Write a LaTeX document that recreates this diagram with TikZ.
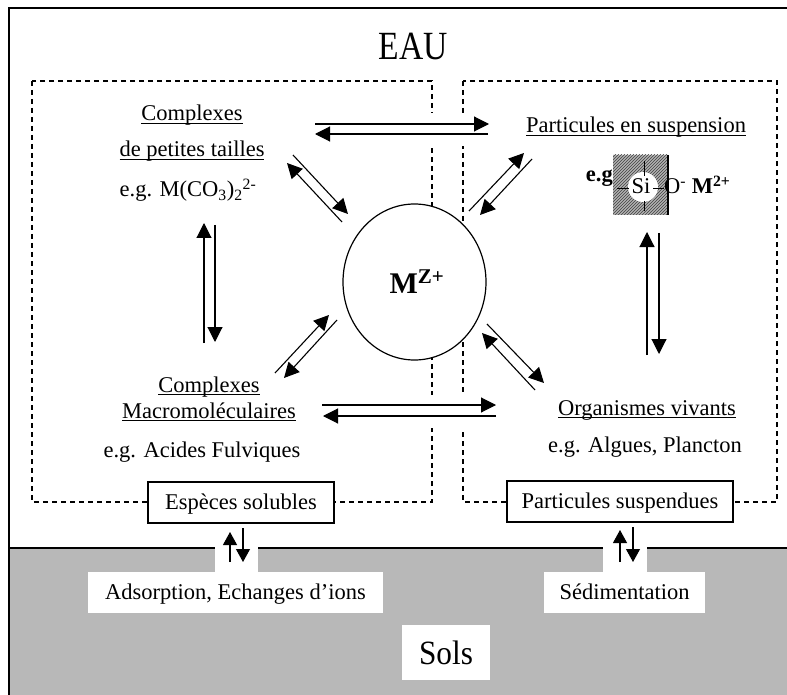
\documentclass[tikz,border=0pt]{standalone}
\usepackage{fontspec}
\setmainfont{Liberation Serif}
\usetikzlibrary{arrows.meta,patterns,shapes.geometric}
\newsavebox\ulbox
\newcommand{\ulx}[1]{\sbox\ulbox{#1}\rlap{\rule[-2.6pt]{\wd\ulbox}{0.9pt}}\usebox\ulbox}
\begin{document}
\begin{tikzpicture}[x=1pt,y=-1pt,
  txt/.style={font=\fontsize{22.5}{27}\selectfont, inner sep=0pt, anchor=base},
  arr/.style={line width=1.1pt, -{Triangle[length=15pt,width=15pt]}},
  sarr/.style={line width=1.1pt, -{Triangle[length=13pt,width=14pt]}},
  dashbox/.style={dash pattern=on 5pt off 4pt, line width=1.4pt},
  lblbox/.style={draw, line width=1.3pt, fill=white, inner sep=0pt, minimum height=41pt,
     font=\fontsize{22.5}{27}\selectfont, text height=17pt, text depth=3.5pt},
  soilbox/.style={fill=white, inner sep=0pt, minimum height=41pt,
     font=\fontsize{22.5}{27}\selectfont, text height=17pt, text depth=3.5pt}]
\useasboundingbox (0,0) rectangle (787,695);
\clip (0,0) rectangle (787,695);
% ground
\fill[black!28] (9,548) rectangle (800,710);
% frame and ground line
\draw[line width=2pt] (9,710) -- (9,8) -- (800,8);
\draw[line width=2pt] (9,548) -- (800,548);
\fill[white] (215,546) rectangle (258,573);
\fill[white] (603,546) rectangle (647,573);
% titles
\node[inner sep=0pt, anchor=base, font=\fontsize{40}{40}\selectfont] (eau) at (413,60) {\scalebox{0.84}[1]{EAU}};
\node[fill=white, inner sep=0pt, minimum width=88pt, minimum height=55pt,
      font=\fontsize{34}{34}\selectfont, text height=27pt, text depth=4pt] (sols) at (446,652.5) {\scalebox{0.92}[1]{Sols}};
% dashed boxes
\draw[dashbox] (32,81) rectangle (432,502);
\draw[dashbox] (463,81) rectangle (777,502);
% central ion
\node[ellipse, draw, fill=white, line width=1.2pt, minimum width=143pt, minimum height=156pt, inner sep=0pt] (mz) at (414.5,282) {};
\node[inner sep=0pt, anchor=base, font=\bfseries\fontsize{30}{30}\selectfont] (mzt) at (417,293) {M\textsuperscript{Z+}};
% white backgrounds behind horizontal arrows
\fill[white] (420,113) rectangle (475,146);
\fill[white] (420,395) rectangle (475,428);
% texts
\node[txt] (c1a) at (192,121) {\ulx{Complexes}};
\node[txt] (c1b) at (192,157) {\ulx{de petites tailles}};
\node[txt] (c1c) at (188,197) {e.g. M(CO\textsubscript{3})\textsubscript{2}\textsuperscript{2-}};
\node[txt] (pa) at (636,133) {\ulx{Particules en suspension}};
\node[txt] (c2a) at (209,392) {\ulx{Complexes}};
\node[txt] (c2b) at (209,418) {\ulx{Macromoléculaires}};
\node[txt] (c2c) at (202,457) {e.g. Acides Fulviques};
\node[txt] (ov) at (647,415) {\ulx{Organismes vivants}};
\node[txt] (ova) at (645,452) {e.g. Algues, Plancton};
% Si group
\fill[black!30] (613,155) rectangle (668,215);
\fill[pattern=north east lines, pattern color=black!75] (613,155) rectangle (668,215);
\draw[line width=1.5pt] (668,155) -- (668,215);
\node[circle, fill=white, minimum size=30pt, inner sep=0pt] (sic) at (643,187) {};
\draw[line width=0.8pt] (644,161) -- (644,176);
\draw[line width=0.8pt] (644,201) -- (644,211);
\draw[line width=0.8pt] (617,188) -- (629,188);
\draw[line width=0.8pt] (653,188) -- (664,188);
\node[txt] (si) at (641,194) {Si};
\node[txt, anchor=base west] (om) at (664,194) {O\textsuperscript{-} \textbf{M\textsuperscript{2+}}};
\node[txt, anchor=base east] (eg) at (613,182) {\textbf{e.g}};
% boxes
\node[lblbox, minimum width=186pt] (esp) at (241,502.5) {Espèces solubles};
\node[lblbox, minimum width=226pt] (psu) at (620,501.5) {Particules suspendues};
\node[soilbox, minimum width=295pt] (ads) at (235.5,592.5) {Adsorption, Echanges d’ions};
\node[soilbox, minimum width=161pt] (sed) at (624.5,592.5) {Sédimentation};
% arrow end coordinates
\coordinate (h1a) at (315,124); \coordinate (h1b) at (489,124);
\coordinate (h2a) at (488,134); \coordinate (h2b) at (315,134);
\coordinate (h3a) at (322,405); \coordinate (h3b) at (496,405);
\coordinate (h4a) at (496,416); \coordinate (h4b) at (323,416);
\coordinate (v1a) at (204,343); \coordinate (v1b) at (204,223);
\coordinate (v2a) at (215,225); \coordinate (v2b) at (215,342);
\coordinate (v3a) at (647,355); \coordinate (v3b) at (647,232);
\coordinate (v4a) at (659,233); \coordinate (v4b) at (659,354);
\coordinate (d1a) at (293,155); \coordinate (d1b) at (348,214);
\coordinate (d2a) at (342,222); \coordinate (d2b) at (287,163);
\coordinate (d3a) at (469,211); \coordinate (d3b) at (524,153);
\coordinate (d4a) at (532,159); \coordinate (d4b) at (480,215);
\coordinate (d5a) at (275,373); \coordinate (d5b) at (329,315);
\coordinate (d6a) at (337,320); \coordinate (d6b) at (284,378);
\coordinate (d7a) at (487,324); \coordinate (d7b) at (544,383);
\coordinate (d8a) at (535,390); \coordinate (d8b) at (482,333);
\coordinate (s1a) at (230,562); \coordinate (s1b) at (230,532);
\coordinate (s2a) at (243,528); \coordinate (s2b) at (243,562);
\coordinate (s3a) at (620,562); \coordinate (s3b) at (620,530);
\coordinate (s4a) at (633,527); \coordinate (s4b) at (633,562);
% arrows
\foreach \p in {h1,h2,h3,h4,v1,v2,v3,v4,d1,d2,d3,d4,d5,d6,d7,d8}
  \draw[arr] (\p a) -- (\p b);
\foreach \p in {s1,s2,s3,s4}
  \draw[sarr] (\p a) -- (\p b);
\end{tikzpicture}
\end{document}
